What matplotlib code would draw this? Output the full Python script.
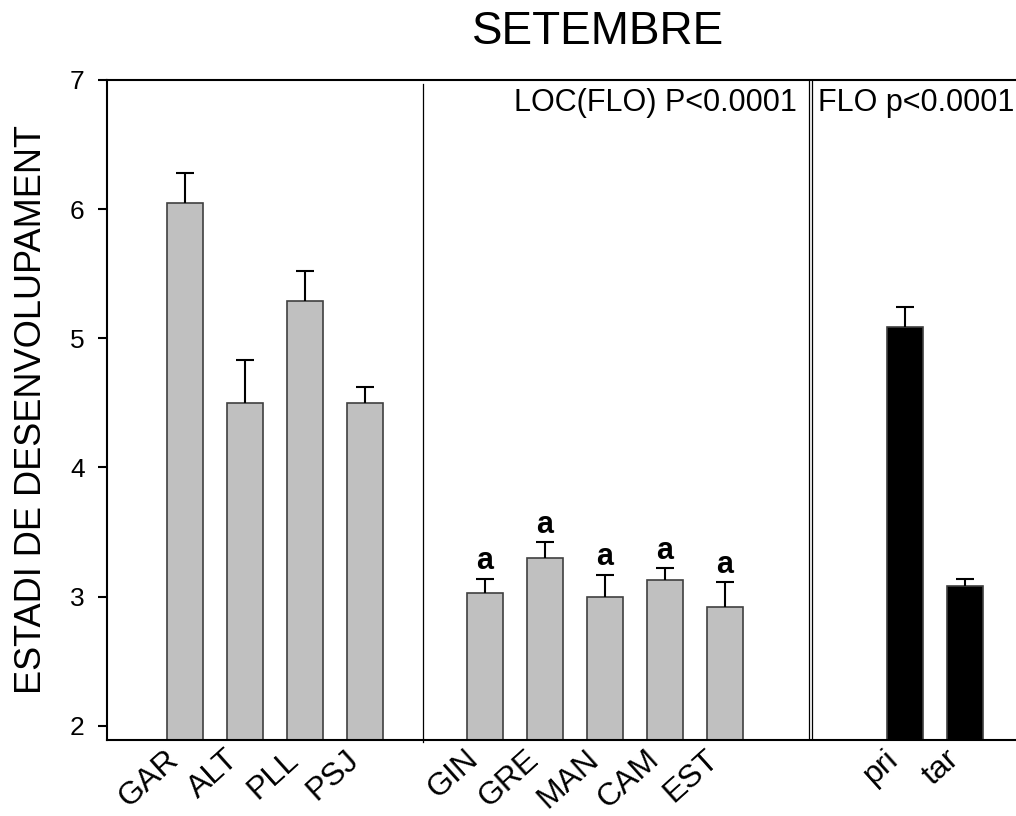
import matplotlib
matplotlib.use("Agg")
import matplotlib.pyplot as plt

plt.rcParams['font.family'] = ['Liberation Sans', 'DejaVu Sans']

# data
loc_names = ["GAR", "ALT", "PLL", "PSJ"]
loc_means = [6.05, 4.50, 5.29, 4.50]
loc_err = [0.23, 0.33, 0.23, 0.12]

flo_names = ["GIN", "GRE", "MAN", "CAM", "EST"]
flo_means = [3.03, 3.30, 3.00, 3.13, 2.92]
flo_err = [0.11, 0.12, 0.17, 0.09, 0.19]
flo_letters = ["a", "a", "a", "a", "a"]

per_names = ["pri", "tar"]
per_means = [5.09, 3.08]
per_err = [0.15, 0.06]

title = "SETEMBRE"
ylabel = "ESTADI DE DESENVOLUPAMENT"
stat_loc = "LOC(FLO) P<0.0001"
stat_flo = "FLO p<0.0001"

# bar positions
x_loc = [0, 1, 2, 3]
x_flo = [5, 6, 7, 8, 9]
x_per = [12, 13]

fig = plt.figure(figsize=(10.16, 8.16), dpi=100)
ax = fig.add_axes([0.105, 0.0931, 0.895, 0.809])

grey = "#c0c0c0"
edge = "#404040"
err_kw = dict(ecolor="black", elinewidth=1.5, capsize=6.8, capthick=1.5)


def draw_group(xs, means, errs, color):
    bars = ax.bar(xs, means, width=0.6, color=color, edgecolor=edge, linewidth=1.2,
                  yerr=[[0] * len(errs), errs], error_kw=err_kw, zorder=2)
    # only the upper cap is drawn in the original
    caps = bars.errorbar.lines[1]
    caps[0].set_visible(False)
    return bars


draw_group(x_loc, loc_means, loc_err, grey)
draw_group(x_flo, flo_means, flo_err, grey)
draw_group(x_per, per_means, per_err, "black")

for xi, m, e, lab in zip(x_flo, flo_means, flo_err, flo_letters):
    ax.text(xi, m + e + 0.075, lab, ha="center", va="baseline",
            fontsize=22, fontweight="bold")

ax.set_xlim(-1.3, 13.855)
ax.set_ylim(1.89, 7)

# separators between the groups
ax.plot([3.97, 3.97], [1.875, 6.97], color="black", lw=0.9, clip_on=False)
ax.plot([10.41, 10.41], [1.89, 7], color="black", lw=0.9)
ax.plot([10.46, 10.46], [1.89, 7], color="black", lw=0.9)

ax.set_yticks([2, 3, 4, 5, 6, 7])
ax.tick_params(axis="y", direction="out", length=6.8, width=1.5, pad=9, labelsize=19)
ax.set_xticks(x_loc + x_flo + x_per)
ax.set_xticklabels(loc_names + flo_names + per_names, rotation=42, ha="right",
                   rotation_mode="default")
ax.tick_params(axis="x", length=0, pad=3, labelsize=23)

for s in ["left", "top", "bottom"]:
    ax.spines[s].set_linewidth(1.5)
ax.spines["right"].set_visible(False)

ax.set_ylabel(ylabel, fontsize=26)
ax.yaxis.set_label_coords(-0.063, 0.5)

ax.text(10.2, 6.82, stat_loc, ha="right", va="center", fontsize=22)
ax.text(10.56, 6.82, stat_flo, ha="left", va="center", fontsize=22)

fig.text(598 / 1016, 1 - 32 / 816, title, ha="center", va="center", fontsize=33)

fig.savefig("out.png", dpi=100)
